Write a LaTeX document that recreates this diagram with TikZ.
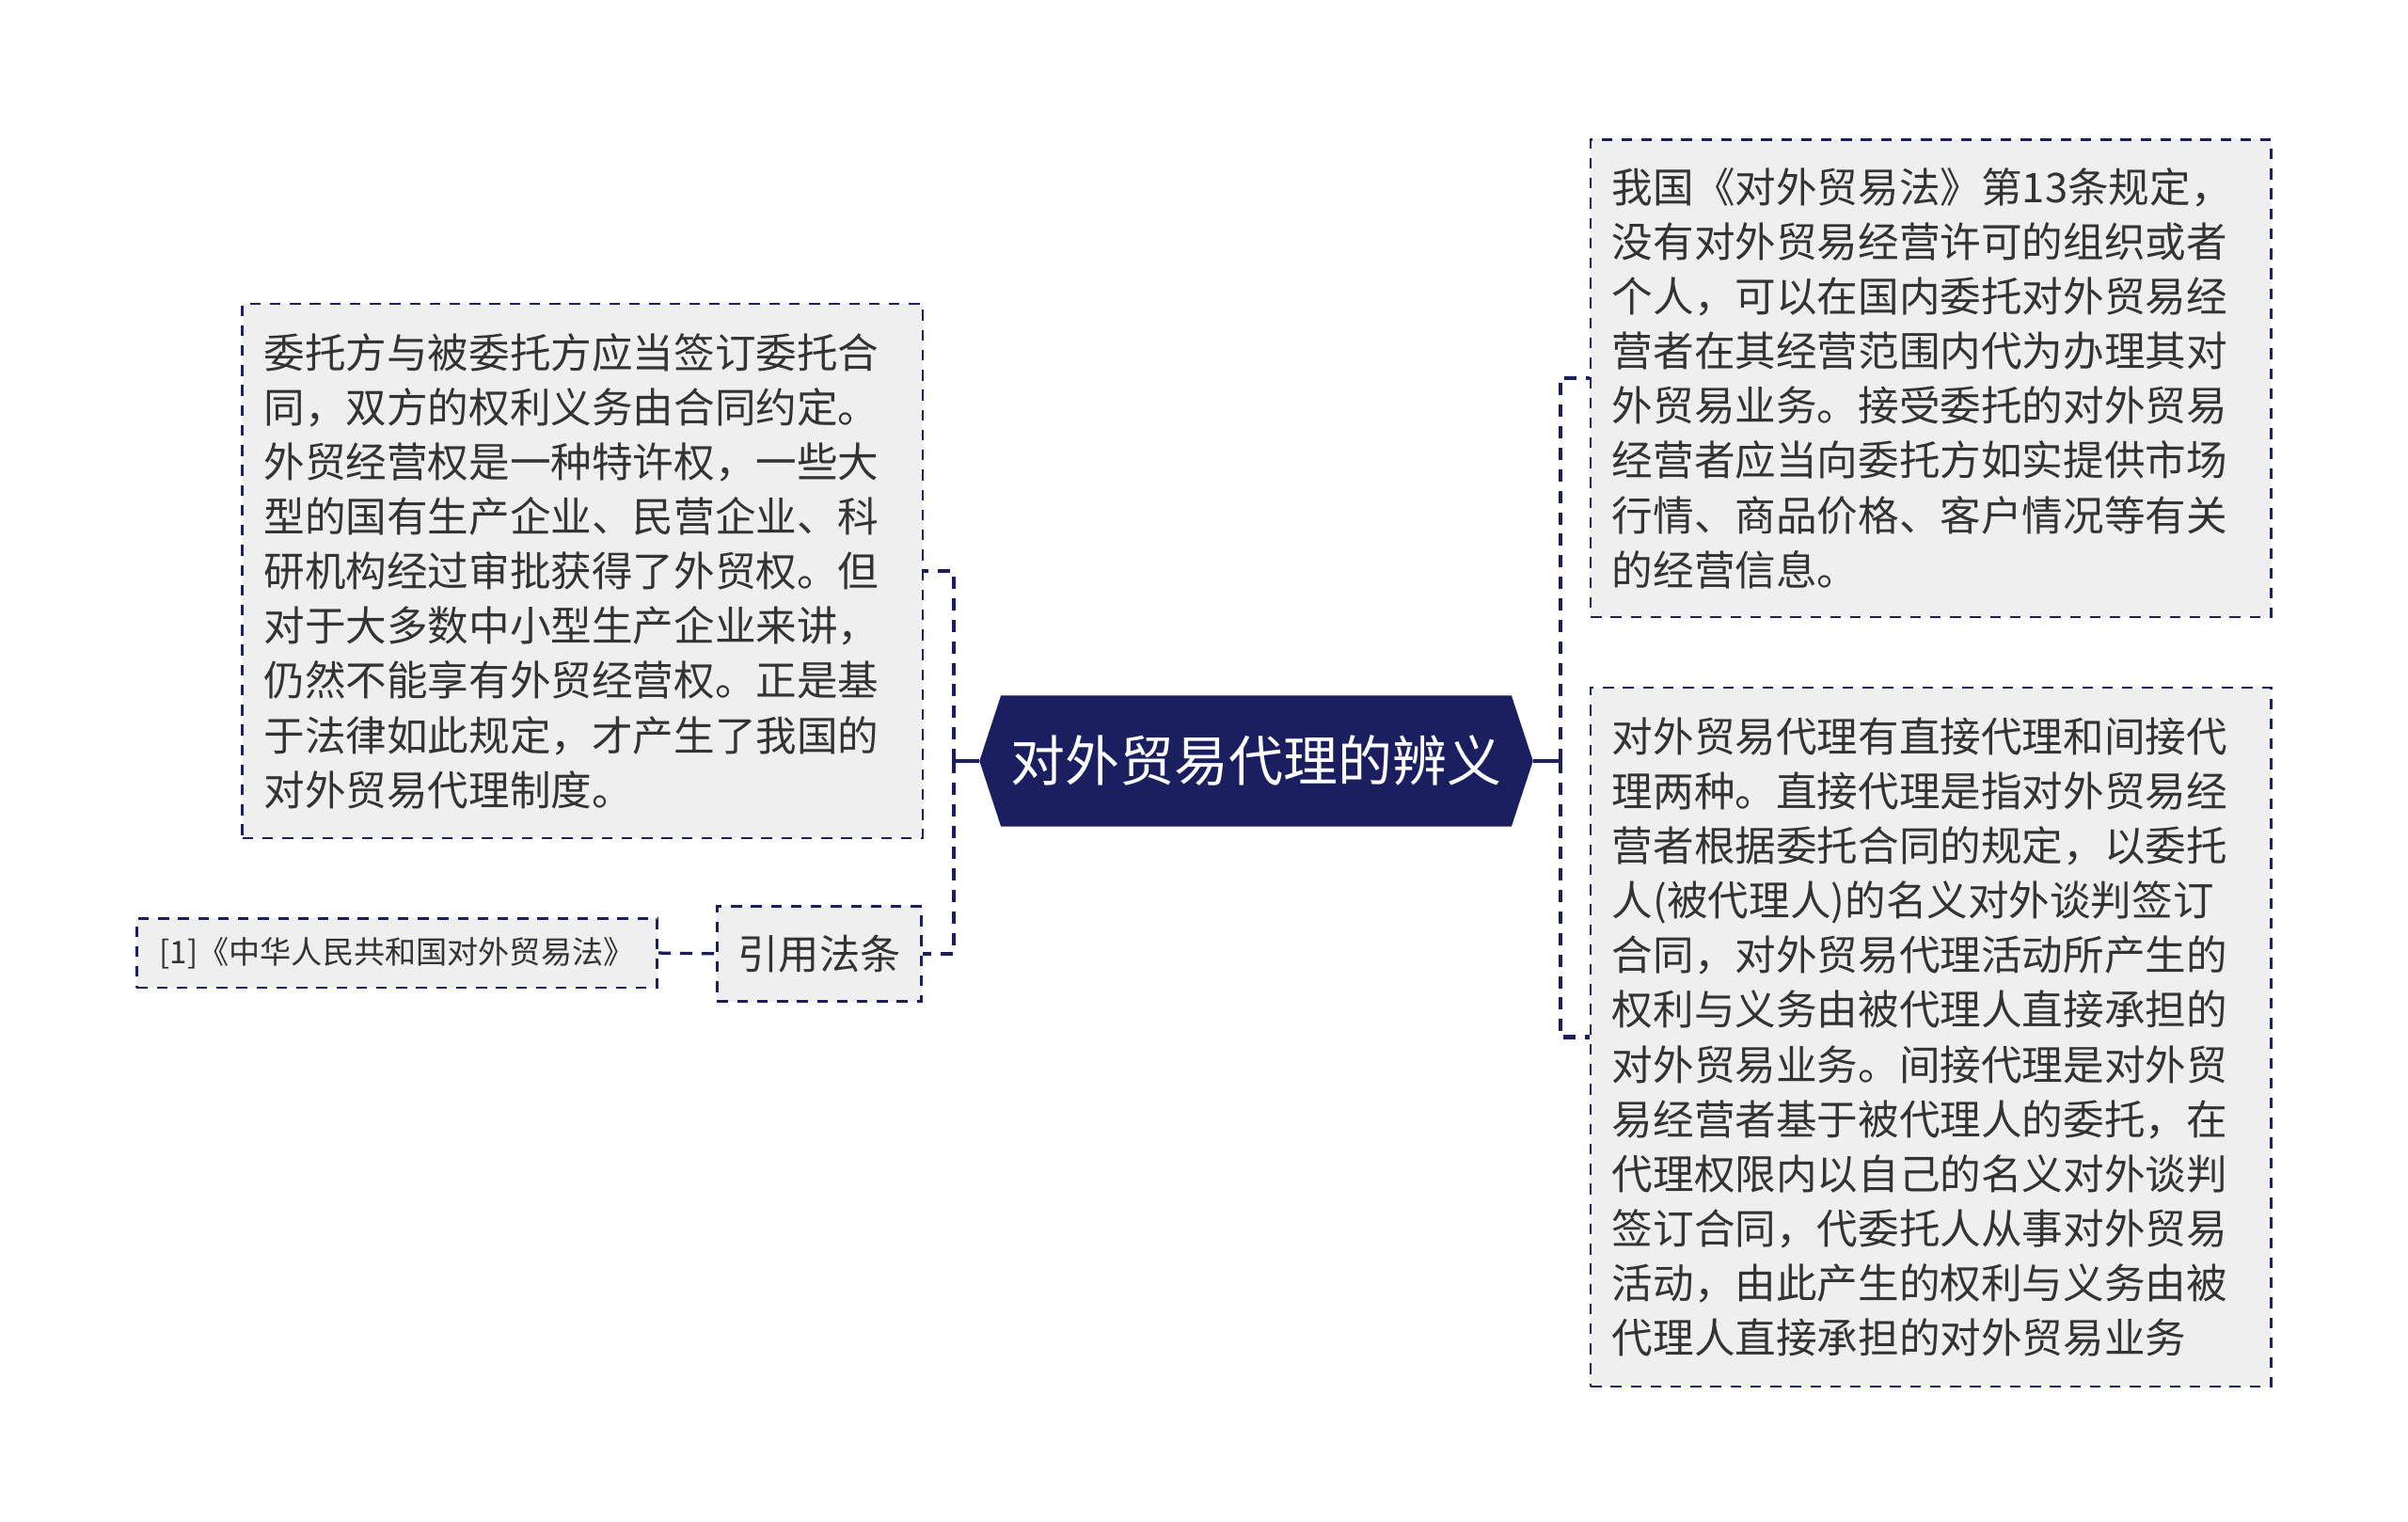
\documentclass[tikz,border=0pt]{standalone}
\usepackage{fontspec}
\newfontfamily\cjk{Noto Sans CJK SC}
\usetikzlibrary{backgrounds}
\definecolor{navy}{HTML}{1B1F5F}
\definecolor{boxfill}{HTML}{EFEFEF}
\definecolor{txt}{HTML}{333333}
\begin{document}
\begin{tikzpicture}[x=1pt,y=-1pt,
  textbox/.style={draw=navy, fill=boxfill, line width=1.6pt, dash pattern=on 7pt off 6pt,
    text=txt, font=\cjk\fontsize{26.7}{35.6}\selectfont, align=left,
    inner xsep=14pt, inner ysep=0pt, anchor=north west, text width=415pt},
  smallbox/.style={draw=navy, fill=boxfill, line width=1.6pt, dash pattern=on 7pt off 6pt,
    text=txt, inner sep=0pt, align=center},
  rootbox/.style={text=white, font=\cjk\fontsize{35.5}{40}\selectfont,
    minimum width=360pt, minimum height=85pt, inner sep=0pt},
  conn/.style={draw=navy, line width=2.7pt, dash pattern=on 8pt off 6pt},
  stub/.style={draw=navy, line width=2.4pt}
]
\useasboundingbox (0,0) rectangle (1568,991);

% root
\node[rootbox] (root) at (818,495.5) {对外贸易代理的辨义};
\begin{scope}[on background layer]
\fill[white] (0,0) rectangle (1568,991);
\fill[navy] (root.west) -- ([xshift=14pt]root.north west) -- ([xshift=-14pt]root.north east)
  -- (root.east) -- ([xshift=-14pt]root.south east) -- ([xshift=14pt]root.south west) -- cycle;
\end{scope}

% left side
\node[textbox, minimum height=348pt] (leftbox) at (157,197) {委托方与被委托方应当签订委托合\\同，双方的权利义务由合同约定。\\外贸经营权是一种特许权，一些大\\型的国有生产企业、民营企业、科\\研机构经过审批获得了外贸权。但\\对于大多数中小型生产企业来讲，\\仍然不能享有外贸经营权。正是基\\于法律如此规定，才产生了我国的\\对外贸易代理制度。};

\node[smallbox, minimum width=133pt, minimum height=62pt,
  font=\cjk\fontsize{26.5}{30}\selectfont] (ref) at (533.5,621) {引用法条};

\node[smallbox, minimum width=339pt, minimum height=45pt,
  font=\cjk\fontsize{20.3}{24}\selectfont] (law) at (258.5,620.5) {[1]《中华人民共和国对外贸易法》};

% right side
\node[textbox, minimum height=311pt] (r1) at (1035,90) {我国《对外贸易法》第13条规定，\\没有对外贸易经营许可的组织或者\\个人，可以在国内委托对外贸易经\\营者在其经营范围内代为办理其对\\外贸易业务。接受委托的对外贸易\\经营者应当向委托方如实提供市场\\行情、商品价格、客户情况等有关\\的经营信息。};

\node[textbox, minimum height=455pt] (r2) at (1035,447) {对外贸易代理有直接代理和间接代\\理两种。直接代理是指对外贸易经\\营者根据委托合同的规定，以委托\\人(被代理人)的名义对外谈判签订\\合同，对外贸易代理活动所产生的\\权利与义务由被代理人直接承担的\\对外贸易业务。间接代理是对外贸\\易经营者基于被代理人的委托，在\\代理权限内以自己的名义对外谈判\\签订合同，代委托人从事对外贸易\\活动，由此产生的权利与义务由被\\代理人直接承担的对外贸易业务};

% connectors
\coordinate (lj) at (621,495.5);
\coordinate (rj) at (1016,495.5);
\draw[stub] (root.west) -- (lj);
\draw[conn] (lj) |- (leftbox.east);
\draw[conn] (lj) |- (ref.east);
\draw[stub] (root.east) -- (rj);
\draw[conn] (rj) |- (r1.west);
\draw[conn] (rj) |- (r2.west);
\draw[conn, line width=2pt] (law.east) -- (ref.west);
\end{tikzpicture}
\end{document}
